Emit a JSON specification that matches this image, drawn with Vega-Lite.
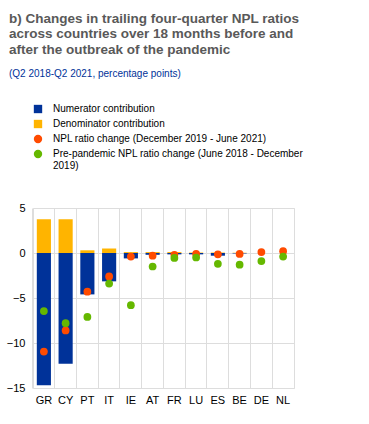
{
  "$schema": "https://vega.github.io/schema/vega-lite/v6.json",
  "width": 261,
  "height": 180,
  "autosize": {"type": "none"},
  "padding": {"left": 33, "top": 208, "right": 75, "bottom": 36},
  "background": "white",
  "config": {
    "font": "Liberation Sans",
    "view": {"stroke": "#dddddd"},
    "axis": {"gridColor": "#dddddd", "gridWidth": 1}
  },
  "title": {
    "text": ["b) Changes in trailing four-quarter NPL ratios", "across countries over 18 months before and", "after the outbreak of the pandemic"],
    "subtitle": "(Q2 2018-Q2 2021, percentage points)",
    "anchor": "start",
    "frame": "group",
    "orient": "top",
    "dx": -24,
    "offset": 25,
    "fontSize": 13.5,
    "fontWeight": "bold",
    "color": "#595959",
    "lineHeight": 15.5,
    "subtitleFontSize": 10,
    "subtitleColor": "#003299",
    "subtitlePadding": 13
  },
  "data": {
    "values": [
      {"country": "GR", "series": "Numerator contribution", "value": -14.7},
      {"country": "GR", "series": "Denominator contribution", "value": 3.75},
      {"country": "GR", "series": "NPL ratio change (December 2019 - June 2021)", "value": -10.95},
      {"country": "GR", "series": "Pre-pandemic NPL ratio change (June 2018 - December 2019)", "value": -6.45},
      {"country": "CY", "series": "Numerator contribution", "value": -12.3},
      {"country": "CY", "series": "Denominator contribution", "value": 3.75},
      {"country": "CY", "series": "NPL ratio change (December 2019 - June 2021)", "value": -8.6},
      {"country": "CY", "series": "Pre-pandemic NPL ratio change (June 2018 - December 2019)", "value": -7.8},
      {"country": "PT", "series": "Numerator contribution", "value": -4.6},
      {"country": "PT", "series": "Denominator contribution", "value": 0.3},
      {"country": "PT", "series": "NPL ratio change (December 2019 - June 2021)", "value": -4.3},
      {"country": "PT", "series": "Pre-pandemic NPL ratio change (June 2018 - December 2019)", "value": -7.1},
      {"country": "IT", "series": "Numerator contribution", "value": -3.15},
      {"country": "IT", "series": "Denominator contribution", "value": 0.5},
      {"country": "IT", "series": "NPL ratio change (December 2019 - June 2021)", "value": -2.6},
      {"country": "IT", "series": "Pre-pandemic NPL ratio change (June 2018 - December 2019)", "value": -3.4},
      {"country": "IE", "series": "Numerator contribution", "value": -0.6},
      {"country": "IE", "series": "Denominator contribution", "value": 0.1},
      {"country": "IE", "series": "NPL ratio change (December 2019 - June 2021)", "value": -0.4},
      {"country": "IE", "series": "Pre-pandemic NPL ratio change (June 2018 - December 2019)", "value": -5.8},
      {"country": "AT", "series": "Numerator contribution", "value": -0.2},
      {"country": "AT", "series": "Denominator contribution", "value": 0.1},
      {"country": "AT", "series": "NPL ratio change (December 2019 - June 2021)", "value": -0.3},
      {"country": "AT", "series": "Pre-pandemic NPL ratio change (June 2018 - December 2019)", "value": -1.5},
      {"country": "FR", "series": "Numerator contribution", "value": -0.15},
      {"country": "FR", "series": "Denominator contribution", "value": 0.1},
      {"country": "FR", "series": "NPL ratio change (December 2019 - June 2021)", "value": -0.2},
      {"country": "FR", "series": "Pre-pandemic NPL ratio change (June 2018 - December 2019)", "value": -0.55},
      {"country": "LU", "series": "Numerator contribution", "value": -0.15},
      {"country": "LU", "series": "Denominator contribution", "value": 0.05},
      {"country": "LU", "series": "NPL ratio change (December 2019 - June 2021)", "value": -0.1},
      {"country": "LU", "series": "Pre-pandemic NPL ratio change (June 2018 - December 2019)", "value": -0.5},
      {"country": "ES", "series": "Numerator contribution", "value": -0.3},
      {"country": "ES", "series": "Denominator contribution", "value": 0.05},
      {"country": "ES", "series": "NPL ratio change (December 2019 - June 2021)", "value": -0.15},
      {"country": "ES", "series": "Pre-pandemic NPL ratio change (June 2018 - December 2019)", "value": -1.2},
      {"country": "BE", "series": "Numerator contribution", "value": -0.05},
      {"country": "BE", "series": "Denominator contribution", "value": 0.03},
      {"country": "BE", "series": "NPL ratio change (December 2019 - June 2021)", "value": -0.1},
      {"country": "BE", "series": "Pre-pandemic NPL ratio change (June 2018 - December 2019)", "value": -1.3},
      {"country": "DE", "series": "Numerator contribution", "value": 0.0},
      {"country": "DE", "series": "Denominator contribution", "value": 0.0},
      {"country": "DE", "series": "NPL ratio change (December 2019 - June 2021)", "value": 0.1},
      {"country": "DE", "series": "Pre-pandemic NPL ratio change (June 2018 - December 2019)", "value": -0.9},
      {"country": "NL", "series": "Numerator contribution", "value": 0.0},
      {"country": "NL", "series": "Denominator contribution", "value": 0.0},
      {"country": "NL", "series": "NPL ratio change (December 2019 - June 2021)", "value": 0.2},
      {"country": "NL", "series": "Pre-pandemic NPL ratio change (June 2018 - December 2019)", "value": -0.4}
    ]
  },
  "encoding": {
    "x": {
      "field": "country",
      "type": "nominal",
      "sort": null,
      "scale": {"paddingInner": 0.35, "paddingOuter": 0.175},
      "axis": {
        "title": null,
        "labelAngle": 0,
        "labelFontSize": 11,
        "labelColor": "#000000",
        "labelPadding": 6,
        "ticks": false,
        "domain": false,
        "grid": true,
        "bandPosition": -0.27
      }
    },
    "color": {
      "field": "series",
      "type": "nominal",
      "scale": {
        "domain": ["Numerator contribution", "Denominator contribution", "NPL ratio change (December 2019 - June 2021)", "Pre-pandemic NPL ratio change (June 2018 - December 2019)"],
        "range": ["#003299", "#FFB400", "#FF4B00", "#65B800"]
      },
      "legend": {
        "title": null,
        "orient": "none",
        "legendX": 0,
        "legendY": -104,
        "symbolType": "circle",
        "symbolSize": 70,
        "symbolOpacity": 1,
        "labelFontSize": 10,
        "labelColor": "#000000",
        "labelOffset": 10,
        "labelLimit": 400,
        "rowPadding": 5,
        "labelExpr": "datum.label == 'Pre-pandemic NPL ratio change (June 2018 - December 2019)' ? ['Pre-pandemic NPL ratio change (June 2018 - December', '2019)'] : datum.label",
        "encode": {
          "symbols": {
            "update": {
              "shape": {"signal": "indexof(['Numerator contribution','Denominator contribution'], datum.value) >= 0 ? 'square' : 'circle'"},
              "strokeWidth": {"value": 0}
            }
          }
        }
      }
    }
  },
  "layer": [
    {
      "transform": [{"filter": {"field": "series", "oneOf": ["Numerator contribution", "Denominator contribution"]}}],
      "mark": {"type": "bar"},
      "encoding": {
        "y": {
          "field": "value",
          "type": "quantitative",
          "stack": "zero",
          "scale": {"domain": [-15, 5], "nice": false},
          "axis": {
            "title": null,
            "values": [-15, -10, -5, 0, 5],
            "labelFontSize": 11,
            "labelColor": "#000000",
            "labelPadding": 8,
            "ticks": false,
            "domain": false,
            "grid": true
          }
        }
      }
    },
    {
      "transform": [{"filter": {"field": "series", "oneOf": ["NPL ratio change (December 2019 - June 2021)", "Pre-pandemic NPL ratio change (June 2018 - December 2019)"]}}],
      "mark": {"type": "point", "filled": true, "opacity": 1, "size": 60, "shape": "circle"},
      "encoding": {
        "y": {"field": "value", "type": "quantitative"}
      }
    }
  ]
}
